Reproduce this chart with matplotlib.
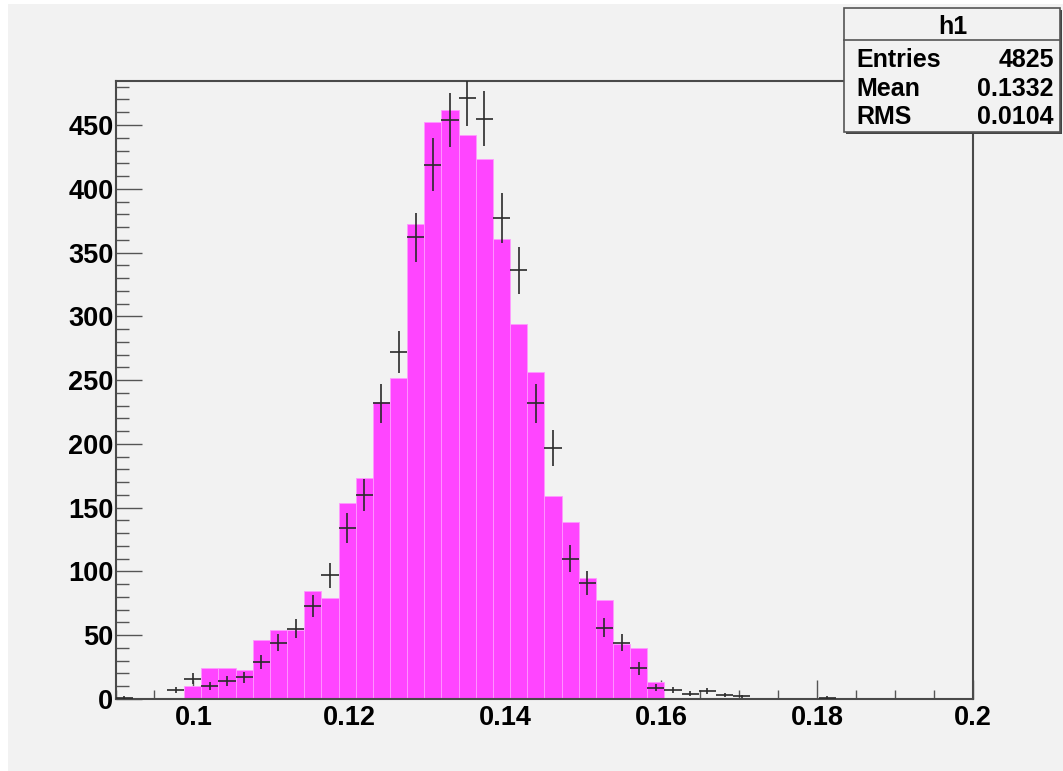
import numpy as np
import matplotlib
matplotlib.use("Agg")
import matplotlib.pyplot as plt
from matplotlib.patches import Rectangle
from matplotlib.lines import Line2D

# ---- data (50 bins from 0.09 to 0.20) ----
x_min, x_max, n_bins = 0.09, 0.20, 50
hist_fill = [0, 0, 0, 0, 10, 24, 24, 23, 46, 54,
             54, 85, 79, 154, 173, 233, 252, 372, 452, 462,
             442, 423, 361, 294, 256, 159, 139, 95, 78, 43,
             40, 13, 0, 0, 0, 0, 0, 0, 0, 0,
             0, 0, 0, 0, 0, 0, 0, 0, 0, 0]
hist_points = [1, 0, 0, 7, 16, 10, 14, 17, 29, 44,
               55, 73, 97, 134, 160, 232, 272, 362, 419, 454,
               471, 455, 377, 336, 232, 197, 110, 91, 56, 44,
               24, 9, 7, 4, 6, 3, 2, 0, 0, 0,
               0, 1, 0, 0, 0, 0, 0, 0, 0, 0]
x_ticks = [0.1, 0.12, 0.14, 0.16, 0.18, 0.2]
x_tick_labels = ["0.1", "0.12", "0.14", "0.16", "0.18", "0.2"]
y_ticks = [0, 50, 100, 150, 200, 250, 300, 350, 400, 450]
y_max = 484.5
stats_title = "h1"
stats_names = ["Entries", "Mean", "RMS"]
stats_values = ["4825", "0.1332", "0.0104"]

FONT = "Liberation Sans"
W, H = 1063, 771
BG = "#F2F2F2"

fig = plt.figure(figsize=(W / 100, H / 100), dpi=100, facecolor="white")

def fx(px):
    return px / W

def fy(py):
    return 1 - py / H

# gray canvas panel
fig.add_artist(Rectangle((fx(8), 0), 1 - fx(8), fy(4), transform=fig.transFigure,
                         facecolor=BG, edgecolor="none", zorder=0))

ax = fig.add_axes([fx(115.5), fy(699), fx(973.3) - fx(115.5), fy(81) - fy(699)])
ax.set_facecolor(BG)

edges = np.linspace(x_min, x_max, n_bins + 1)
width = edges[1] - edges[0]
centers = edges[:-1] + width / 2
fill = np.array(hist_fill, dtype=float)
pts = np.array(hist_points, dtype=float)

m = fill > 0
ax.bar(edges[:-1][m], fill[m], width=width, align="edge", color="#FF45FF",
       edgecolor="#FF9AFF", linewidth=0.6, zorder=2)

mp = pts > 0
ax.errorbar(centers[mp], pts[mp], yerr=np.sqrt(pts[mp]), xerr=width / 2,
            fmt="none", ecolor="#2a2a2a", elinewidth=1.2, capsize=0, zorder=3)

ax.set_xlim(x_min, x_max)
ax.set_ylim(0, y_max)

ax.set_xticks(x_ticks)
ax.set_xticklabels(x_tick_labels)
ax.set_xticks(np.arange(0.09, 0.2001, 0.005), minor=True)
ax.set_yticks(y_ticks)
ax.set_yticks(np.arange(0, y_max, 10), minor=True)

ax.tick_params(axis="both", which="both", direction="in", color="#555555", width=1.0,
               top=False, right=False)
ax.tick_params(axis="x", which="major", length=13.7, pad=4)
ax.tick_params(axis="x", which="minor", length=6.8)
ax.tick_params(axis="y", which="major", length=18.7, pad=1.5)
ax.tick_params(axis="y", which="minor", length=9.4)

for lab in ax.get_xticklabels() + ax.get_yticklabels():
    lab.set_fontfamily(FONT)
    lab.set_fontweight("bold")
    lab.set_fontsize(19.5)
    lab.set_color("black")

for sp in ax.spines.values():
    sp.set_color("#4a4a4a")
    sp.set_linewidth(1.5)

# ---- stats box ----
bx0, by0, bx1, by1 = 844, 8, 1060, 132
fig.add_artist(Rectangle((fx(bx0 + 2), fy(by1 + 2)), fx(bx1 - bx0), fy(by0) - fy(by1),
                         transform=fig.transFigure, facecolor="#444444",
                         edgecolor="none", zorder=10))
fig.add_artist(Rectangle((fx(bx0), fy(by1)), fx(bx1 - bx0), fy(by0) - fy(by1),
                         transform=fig.transFigure, facecolor=BG,
                         edgecolor="#555555", linewidth=1.2, zorder=11))
fig.add_artist(Line2D([fx(bx0), fx(bx1)], [fy(40), fy(40)], transform=fig.transFigure,
                      color="#555555", linewidth=1.2, zorder=12))
fig.text(fx(953), fy(27), stats_title, ha="center", va="center", fontsize=18,
         fontweight="bold", family=FONT, zorder=13)
row_y = [60, 89, 117]
for name, val, yy in zip(stats_names, stats_values, row_y):
    fig.text(fx(856), fy(yy), name, ha="left", va="center", fontsize=18,
             fontweight="bold", family=FONT, zorder=13)
    fig.text(fx(1054), fy(yy), val, ha="right", va="center", fontsize=18,
             fontweight="bold", family=FONT, zorder=13)

fig.savefig("out.png", dpi=100, facecolor="white")
